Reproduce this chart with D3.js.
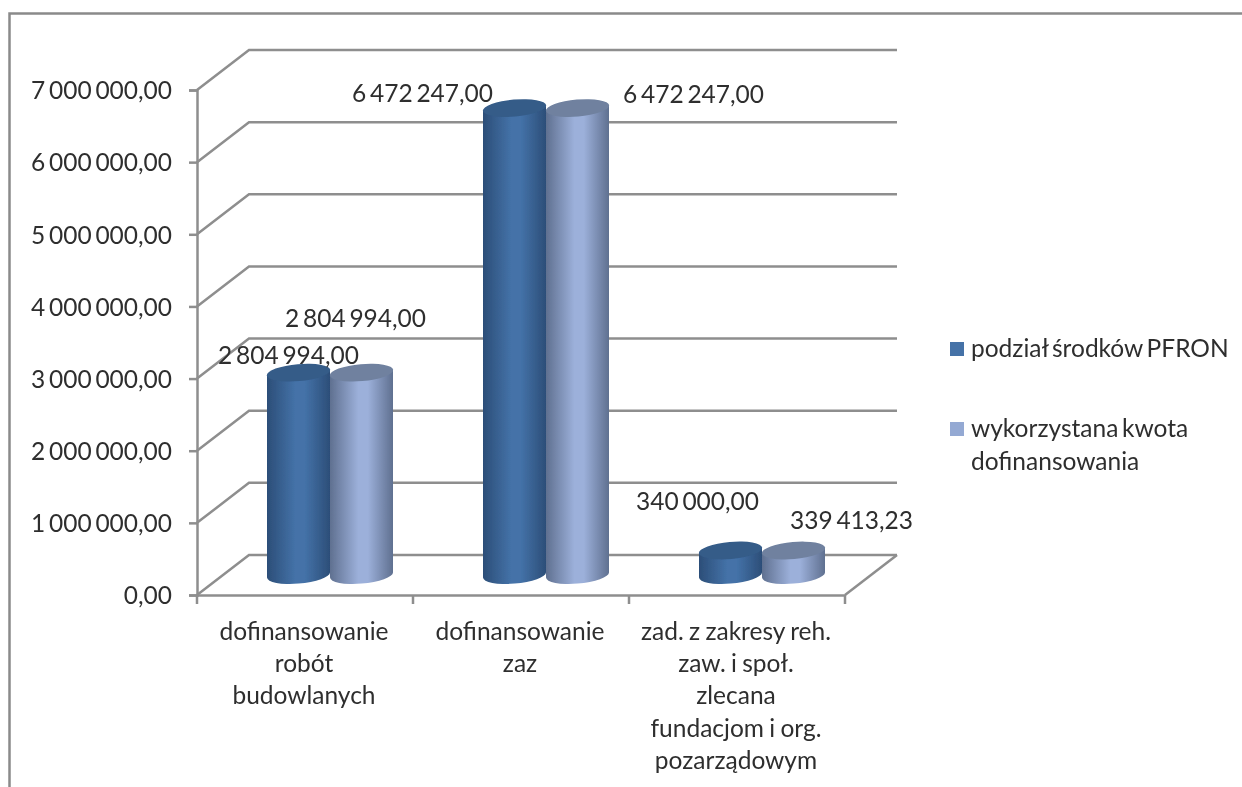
<!DOCTYPE html>
<html>
<head>
<meta charset="utf-8">
<script src="https://cdn.jsdelivr.net/npm/d3@7"></script>
<style>
html, body { margin: 0; padding: 0; background: #fff; overflow: hidden; }
text { font-family: Lato, "Open Sans", sans-serif; fill: #2e2e2e; word-spacing: -2.5px; }
</style>
</head>
<body>
<script>
// values
var categories = ['dofinansowanie robót budowlanych', 'dofinansowanie zaz', 'zad. z zakresy reh. zaw. i społ. zlecana fundacjom i org. pozarządowym'];
var categoryLines = [
    ['dofinansowanie', 'robót', 'budowlanych'],
    ['dofinansowanie', 'zaz'],
    ['zad. z zakresy reh.', 'zaw. i społ.', 'zlecana', 'fundacjom i org.', 'pozarządowym']
];
var seriesNames = ['podział środków PFRON', 'wykorzystana kwota dofinansowania'];
var seriesA = [2804994, 6472247, 340000];
var seriesB = [2804994, 6472247, 339413.23];
var yTicks = [0, 1000000, 2000000, 3000000, 4000000, 5000000, 6000000, 7000000];

// chart geometry
var W = 1242, H = 787;
var axisLeft = 197, axisRight = 845, axisBottom = 595, axisTop = 90;
var depthX = 52, depthY = 40;
var gridColor = '#8e8e8e';
var fontSize = 24.5;

var svg = d3.select('body').append('svg').attr('width', W).attr('height', H);
var defs = svg.append('defs');

var blur = defs.append('filter').attr('id', 'soft').attr('x', '-5%').attr('y', '-5%').attr('width', '110%').attr('height', '110%');
blur.append('feGaussianBlur').attr('stdDeviation', 0.45);

// horizontal shading of the cylinders
function addGradient(id, dark, mid) {
    var g = defs.append('linearGradient').attr('id', id);
    g.append('stop').attr('offset', '0%').attr('stop-color', dark);
    g.append('stop').attr('offset', '45%').attr('stop-color', mid);
    g.append('stop').attr('offset', '60%').attr('stop-color', mid);
    g.append('stop').attr('offset', '100%').attr('stop-color', dark);
}
addGradient('gradA', '#2c4e78', '#4472a8');
addGradient('gradB', '#5f7090', '#9cb0da');
var topColors = ['#345b88', '#6f819f'];
var legendColors = ['#4572a7', '#94a9d3'];

var root = svg.append('g').attr('filter', 'url(#soft)');

// outer frame, runs off the right and bottom of the picture
root.append('path')
    .attr('d', 'M9.5,' + (H + 5) + 'V13.5H' + (W + 5))
    .attr('fill', 'none').attr('stroke', '#8a8a8a').attr('stroke-width', 2.5);

var y = d3.scaleLinear().domain([0, 7000000]).range([axisBottom, axisTop]);
var x = d3.scaleBand().domain(categories).range([axisLeft, axisRight]);
var xSeries = d3.scaleBand().domain([0, 1]).range([-63, 63]);
var locale = d3.formatLocale({ decimal: ',', thousands: ' ', grouping: [3], currency: ['', ''] });
var fmt = locale.format(',.2f');

// walls and floor
var grid = root.append('g');
grid.selectAll('path.wall').data(yTicks).enter().append('path')
    .attr('class', 'wall')
    .attr('d', function(d) {
        return 'M' + axisLeft + ',' + y(d) + 'l' + depthX + ',' + (-depthY) + 'H' + (axisRight + depthX);
    })
    .attr('fill', 'none').attr('stroke', gridColor).attr('stroke-width', 2.5);
grid.append('path')
    .attr('d', 'M' + axisRight + ',' + axisBottom + 'l' + depthX + ',' + (-depthY))
    .attr('stroke', gridColor).attr('stroke-width', 2.5);

// axes
var yAxis = root.append('g').attr('transform', 'translate(' + axisLeft + ',0)')
    .call(d3.axisLeft(y).tickValues(yTicks).tickFormat(fmt).tickSize(8).tickPadding(17));
yAxis.selectAll('text').style('font-size', fontSize + 'px').attr('dy', '0.36em');
var xAxis = root.append('g').attr('transform', 'translate(0,' + axisBottom + ')')
    .call(d3.axisBottom(x).tickFormat('').tickSize(0));
root.selectAll('.domain').attr('stroke', gridColor).attr('stroke-width', 2.5);
yAxis.selectAll('line').attr('stroke', gridColor).attr('stroke-width', 2.5);

var xEdges = categories.map(function(c) { return x(c); }).concat([axisRight]);
root.selectAll('line.xtick').data(xEdges).enter().append('line')
    .attr('class', 'xtick')
    .attr('x1', function(d) { return d; }).attr('x2', function(d) { return d; })
    .attr('y1', axisBottom).attr('y2', axisBottom + 9)
    .attr('stroke', gridColor).attr('stroke-width', 2.5);

// category labels, wrapped as in the picture
categories.forEach(function(c, i) {
    var t = root.append('text')
        .attr('text-anchor', 'middle')
        .style('font-size', fontSize + 'px')
        .style('word-spacing', '-1px');
    t.selectAll('tspan').data(categoryLines[i]).enter().append('tspan')
        .attr('x', x(c) + x.bandwidth() / 2 - 1)
        .attr('y', function(d, k) { return 639.5 + k * 32.4; })
        .text(function(d) { return d; });
});

// cylinders
var tilt = 2.6, ry = 8.5;
function cylinder(cx, w, yBase, yTop, s) {
    var rx = w / 2;
    var g = root.append('g');
    g.append('path')
        .attr('d', 'M' + (cx - rx) + ',' + (yTop + tilt) +
            'L' + (cx - rx) + ',' + (yBase + tilt) +
            'A' + rx + ',' + ry + ' -5 0 0 ' + (cx + rx) + ',' + (yBase - tilt) +
            'L' + (cx + rx) + ',' + (yTop - tilt) + 'Z')
        .attr('fill', 'url(#grad' + (s === 0 ? 'A' : 'B') + ')');
    g.append('ellipse')
        .attr('cx', cx).attr('cy', yTop)
        .attr('rx', rx + 0.3).attr('ry', ry)
        .attr('transform', 'rotate(-5 ' + cx + ' ' + yTop + ')')
        .attr('fill', topColors[s]);
}
var barShift = 25, baseLift = 20;
// offsets of the hand placed data labels from the top of each bar
var labelDx = [[-10, -6], [-92, 116], [-33, 58]];
var labelDy = [[-9, -46], [-6, -5], [-40, -22]];
categories.forEach(function(c, i) {
    [seriesA, seriesB].forEach(function(series, s) {
        var cx = x(c) + x.bandwidth() / 2 + barShift + xSeries(s) + xSeries.bandwidth() / 2;
        cylinder(cx, xSeries.bandwidth(), y(0) - baseLift, y(series[i]) - baseLift, s);
    });
});
categories.forEach(function(c, i) {
    [seriesA, seriesB].forEach(function(series, s) {
        var cx = x(c) + x.bandwidth() / 2 + barShift + xSeries(s) + xSeries.bandwidth() / 2;
        root.append('text')
            .attr('x', cx + labelDx[i][s])
            .attr('y', y(series[i]) - baseLift + labelDy[i][s])
            .attr('text-anchor', 'middle')
            .style('font-size', fontSize + 'px')
            .text(fmt(series[i]));
    });
});

// legend
var legendLines = [['podział środków PFRON'], ['wykorzystana kwota', 'dofinansowania']];
var legendY = [349, 429];
seriesNames.forEach(function(n, i) {
    root.append('rect')
        .attr('x', 950).attr('y', legendY[i] - 7).attr('width', 14).attr('height', 14)
        .attr('fill', legendColors[i]);
    var t = root.append('text').style('font-size', fontSize + 'px');
    t.selectAll('tspan').data(legendLines[i]).enter().append('tspan')
        .attr('x', 971)
        .attr('y', function(d, k) { return legendY[i] + 8 + k * 33; })
        .text(function(d) { return d; });
});
</script>
</body>
</html>
